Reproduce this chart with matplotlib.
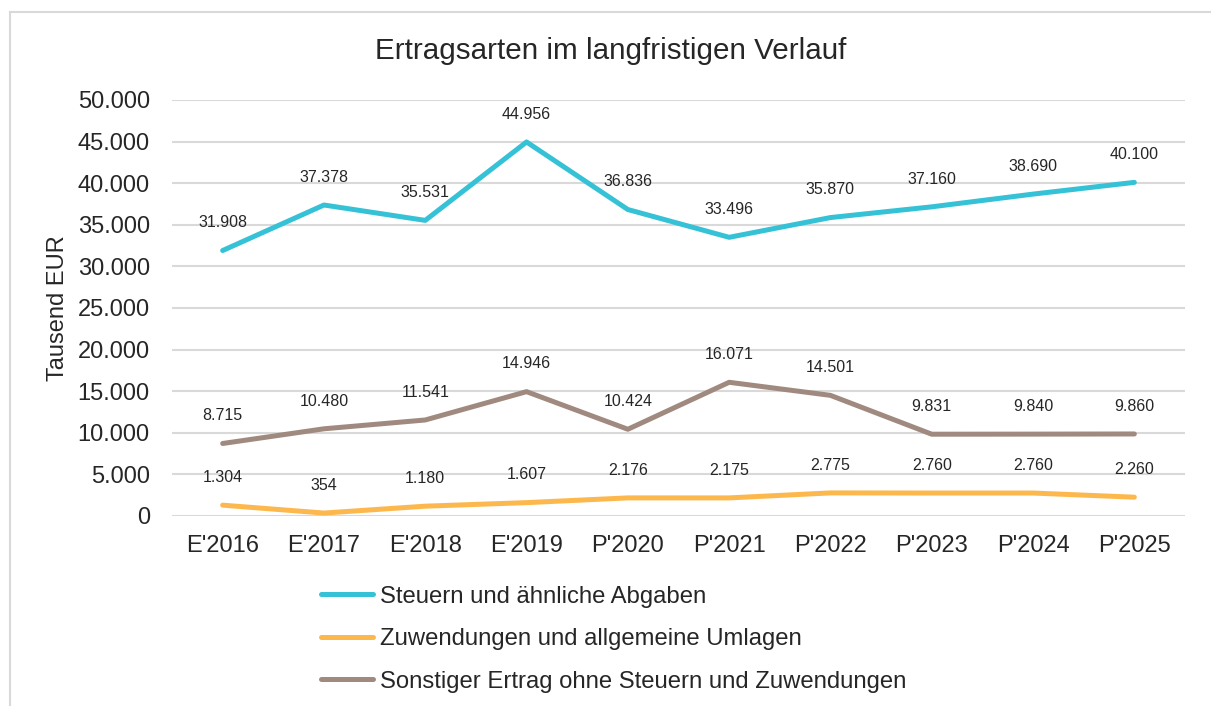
import numpy as np
import matplotlib
matplotlib.use("Agg")
from matplotlib import pyplot as plt
from matplotlib.lines import Line2D

plt.rcParams['font.family'] = ['Liberation Sans', 'DejaVu Sans']

# Daten
years = ["E'2016", "E'2017", "E'2018", "E'2019", "P'2020",
         "P'2021", "P'2022", "P'2023", "P'2024", "P'2025"]
steuern = [31908, 37378, 35531, 44956, 36836, 33496, 35870, 37160, 38690, 40100]
zuwendungen = [1304, 354, 1180, 1607, 2176, 2175, 2775, 2760, 2760, 2260]
sonstige = [8715, 10480, 11541, 14946, 10424, 16071, 14501, 9831, 9840, 9860]

names = ["Steuern und ähnliche Abgaben",
         "Zuwendungen und allgemeine Umlagen",
         "Sonstiger Ertrag ohne Steuern und Zuwendungen"]
colors = ["#36C2D6", "#FDB84D", "#A08A80"]


def fmt(v):
    return "{:,}".format(v).replace(",", ".")


def main():
    W, H = 1211, 706
    fig = plt.figure(figsize=(W / 100, H / 100), dpi=100)
    ax = fig.add_axes([172 / W, 1 - 516 / H, 1013 / W, 416 / H])

    x = np.arange(len(years))
    series = [steuern, zuwendungen, sonstige]
    for vals, c in zip(series, colors):
        ax.plot(x, vals, color=c, lw=3.6, solid_capstyle='round', zorder=3)
        for xi, v in zip(x, vals):
            ax.annotate(fmt(v), (xi, v), xytext=(0, 20), textcoords='offset points',
                        ha='center', va='center', fontsize=11.5, color='#262626')

    ax.set_xlim(-0.5, len(years) - 0.5)
    ax.set_ylim(0, 50000)
    ax.set_yticks(np.arange(0, 50001, 5000))
    ax.set_yticklabels([fmt(v) for v in range(0, 50001, 5000)])
    ax.set_xticks(x)
    ax.set_xticklabels(years)
    ax.tick_params(axis='both', length=0, labelsize=17, colors='#262626')
    ax.tick_params(axis='y', pad=16)
    ax.tick_params(axis='x', pad=14)
    ax.grid(axis='y', color='#D9D9D9', lw=1.5)
    ax.set_axisbelow(True)
    for s in ax.spines.values():
        s.set_visible(False)

    fig.text(58 / W, 1 - 308 / H, "Tausend EUR", rotation=90, ha='center', va='center',
             fontsize=17, color='#262626')
    fig.text(611 / W, 1 - 51 / H, "Ertragsarten im langfristigen Verlauf",
             ha='center', va='center', fontsize=21.3, color='#262626')

    # Legende
    handles = [Line2D([0], [0], color=c, lw=3.6, solid_capstyle='round') for c in colors]
    fig.legend(handles, names, loc='upper left', bbox_to_anchor=(299 / W, 1 - 564 / H),
               frameon=False, fontsize=17.2, handlelength=2.2, handletextpad=0.3,
               labelspacing=0.86, labelcolor='#262626')

    # Rahmen
    fig.add_artist(Line2D([9.5 / W, 1], [1 - 12 / H, 1 - 12 / H], color='#D9D9D9', lw=1.5))
    fig.add_artist(Line2D([9.5 / W, 9.5 / W], [0, 1 - 12 / H], color='#D9D9D9', lw=1.5))

    fig.savefig("out.png", dpi=100)


if __name__ == "__main__":
    main()
